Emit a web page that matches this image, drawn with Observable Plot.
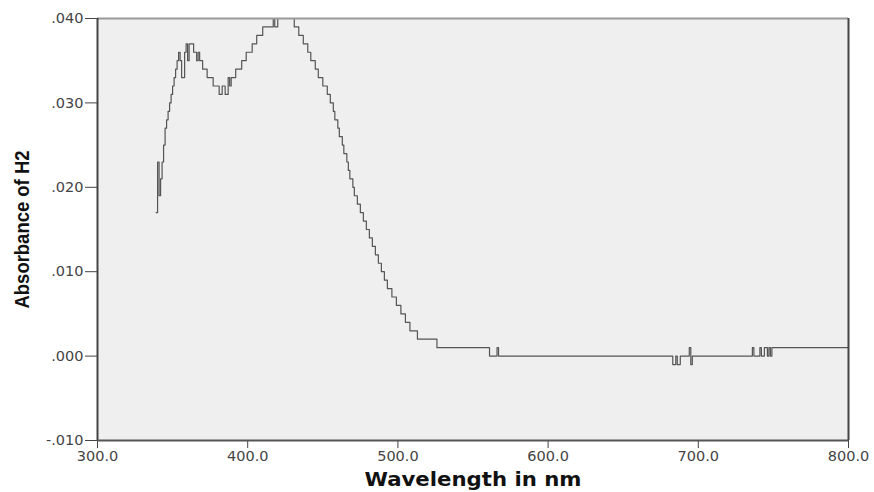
<!DOCTYPE html>
<html>
<head>
<meta charset="utf-8">
<script src="https://cdn.jsdelivr.net/npm/d3@7"></script>
<script src="https://cdn.jsdelivr.net/npm/@observablehq/plot@0.6"></script>
<style>
  html, body { margin: 0; padding: 0; background: #ffffff; }
  #chart svg { display: block; }
</style>
</head>
<body>
<div id="chart"></div>
<script>
// Wavelength (nm) at which the absorbance reading changes, and the new reading
const wavelength = [339,340,341,342,343,344,345,346,347,348,349,350,351,352,353,354,355,356,358,359,360,361,364,366,367,368,370,373,377,381,383,385,387,388,389,392,396,399,403,406,410,417,418,420,431,434,437,440,442,445,447,450,453,455,457,458,460,461,463,464,466,467,468,470,471,473,475,477,479,481,483,485,487,489,491,493,496,499,502,505,508,513,526,561,566,567,683,685,686,688,694,695,696,736,737,741,742,744,746,747,748,749,800];
const absorbance = [0.017,0.023,0.019,0.021,0.023,0.025,0.027,0.028,0.029,0.030,0.031,0.032,0.033,0.034,0.035,0.036,0.035,0.033,0.036,0.037,0.035,0.037,0.036,0.035,0.036,0.035,0.034,0.033,0.032,0.031,0.032,0.031,0.033,0.032,0.033,0.034,0.035,0.036,0.037,0.038,0.039,0.040,0.039,0.040,0.039,0.038,0.037,0.036,0.035,0.034,0.033,0.032,0.031,0.030,0.029,0.028,0.027,0.026,0.025,0.024,0.023,0.022,0.021,0.020,0.019,0.018,0.017,0.016,0.015,0.014,0.013,0.012,0.011,0.010,0.009,0.008,0.007,0.006,0.005,0.004,0.003,0.002,0.001,0.000,0.001,0.000,-0.001,0.000,-0.001,0.000,0.001,-0.001,0.000,0.001,0.000,0.001,0.000,0.001,0.000,0.001,0.000,0.001,0.001];

const xTicks = [300, 400, 500, 600, 700, 800];
const yTicks = [-0.010, 0.000, 0.010, 0.020, 0.030, 0.040];
const xTitle = "Wavelength in nm";
const yTitle = "Absorbance of H2";

const data = wavelength.map((w, i) => ({w, a: absorbance[i]}));
const fmtY = v => d3.format(".3f")(v).replace("\u2212", "-").replace(/^(-?)0\./, "$1.");
const fmtX = v => d3.format(".1f")(v);

const chart = Plot.plot({
  width: 874,
  height: 492,
  marginLeft: 97,
  marginRight: 26,
  marginTop: 18,
  marginBottom: 52,
  style: {fontFamily: "DejaVu Sans", fontSize: "14.5px", color: "#444", background: "#ffffff"},
  x: {domain: [300, 800], ticks: xTicks, tickFormat: fmtX, label: null},
  y: {domain: [-0.010, 0.040], ticks: yTicks, tickFormat: fmtY, label: null},
  marks: [
    Plot.frame({fill: "#efefef", stroke: "none"}),
    Plot.axisX({ticks: xTicks, tickFormat: fmtX, tickSize: 8, tickPadding: 2, stroke: "#444", fill: "#444", label: null}),
    Plot.axisY({ticks: yTicks, tickFormat: fmtY, tickSize: 12, tickPadding: 2, stroke: "#444", fill: "#444", label: null}),
    Plot.line(data, {x: "w", y: "a", curve: "step-after", stroke: "#555", strokeWidth: 1.2}),
    Plot.ruleY([0.040], {stroke: "#999", strokeWidth: 2}),
    Plot.ruleX([300], {stroke: "#444", strokeWidth: 2}),
    Plot.ruleX([800], {stroke: "#444", strokeWidth: 2}),
    Plot.ruleY([-0.010], {stroke: "#555", strokeWidth: 2}),
    Plot.text([xTitle], {frameAnchor: "bottom", lineAnchor: "bottom", dy: 45, fontFamily: "DejaVu Sans", fontWeight: "bold", fontSize: 20, fill: "#111"}),
    Plot.text([yTitle], {frameAnchor: "left", rotate: -90, dx: -75, dy: 0, fontFamily: "Liberation Sans", fontWeight: "bold", fontSize: 21, fill: "#111"})
  ]
});
d3.select(chart).selectAll("text")
  .filter(function() { return this.textContent === yTitle; })
  .attr("text-anchor", "middle")
  .attr("textLength", 158)
  .attr("lengthAdjust", "spacingAndGlyphs");
d3.select(chart).selectAll("text")
  .filter(function() { return this.textContent === xTitle; })
  .attr("textLength", 217)
  .attr("lengthAdjust", "spacingAndGlyphs");
document.getElementById("chart").appendChild(chart);
</script>
</body>
</html>
